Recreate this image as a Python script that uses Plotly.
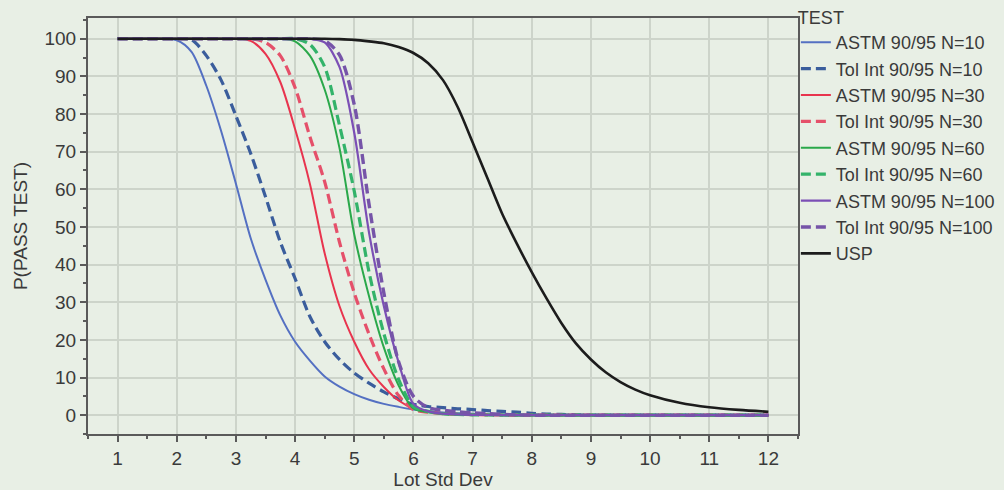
import plotly.graph_objects as go

# Lot standard deviation (x) values
lot_std_dev = [1, 1.5, 2, 2.25, 2.5, 2.75, 3, 3.25, 3.5, 3.75, 4, 4.25, 4.5, 4.75,
               5, 5.25, 5.5, 5.75, 6, 6.25, 6.5, 6.75, 7, 7.25, 7.5, 7.75, 8, 8.25,
               8.5, 8.75, 9, 9.25, 9.5, 9.75, 10, 10.5, 11, 11.5, 12]

astm_n10 = [100, 100, 99.6, 96.5, 87.5, 75.5, 61.5, 47, 36, 26.5, 19.5, 14.5, 10.3, 7.6,
            5.6, 4.1, 3.0, 2.2, 1.5, 1.0, 0.7, 0.5, 0.35, 0.25, 0.2, 0.15, 0.1, 0.1,
            0.05, 0.05, 0, 0, 0, 0, 0, 0, 0, 0, 0]
tol_n10 = [100, 100, 100, 99.7, 95.5, 89, 79.5, 69.5, 58, 46, 36.3, 26.2, 19.5, 14.8,
           11.2, 8.5, 6.2, 4.3, 2.9, 2.3, 2.0, 1.7, 1.5, 1.2, 1.0, 0.8, 0.5, 0.3,
           0.2, 0.1, 0, 0, 0, 0, 0, 0, 0, 0, 0]
astm_n30 = [100, 100, 100, 100, 100, 100, 100, 99.4, 96, 88.5, 76, 61.5, 43, 29,
            19.5, 12.2, 7.5, 3.9, 1.8, 1.0, 0.5, 0.3, 0.2, 0.1, 0.05, 0, 0, 0,
            0, 0, 0, 0, 0, 0, 0, 0, 0, 0, 0]
tol_n30 = [100, 100, 100, 100, 100, 100, 100, 100, 99, 95.5, 87, 74, 62, 46,
           32.5, 21.5, 12.3, 5.2, 1.5, 0.8, 0.4, 0.25, 0.15, 0.1, 0.05, 0, 0, 0,
           0, 0, 0, 0, 0, 0, 0, 0, 0, 0, 0]
astm_n60 = [100, 100, 100, 100, 100, 100, 100, 100, 100, 100, 99.3, 95.5, 86.5, 71,
            48, 31.6, 18, 7.9, 1.8, 0.8, 0.3, 0.15, 0.1, 0.05, 0, 0, 0, 0,
            0, 0, 0, 0, 0, 0, 0, 0, 0, 0, 0]
tol_n60 = [100, 100, 100, 100, 100, 100, 100, 100, 100, 100, 100, 98.5, 92.5, 77,
           59.5, 38, 21.7, 9.5, 2.3, 1.0, 0.4, 0.2, 0.1, 0.05, 0, 0, 0, 0,
           0, 0, 0, 0, 0, 0, 0, 0, 0, 0, 0]
astm_n100 = [100, 100, 100, 100, 100, 100, 100, 100, 100, 100, 100, 100, 99, 92.5,
             75, 48.5, 29, 14, 3, 1.0, 0.4, 0.2, 0.1, 0.05, 0, 0, 0, 0,
             0, 0, 0, 0, 0, 0, 0, 0, 0, 0, 0]
tol_n100 = [100, 100, 100, 100, 100, 100, 100, 100, 100, 100, 100, 100, 99.5, 95.7,
            82.5, 56, 32.5, 14.2, 5, 2.0, 1.3, 0.9, 0.6, 0.4, 0.2, 0.1, 0, 0,
            0, 0, 0, 0, 0, 0, 0, 0, 0, 0, 0]
usp = [100, 100, 100, 100, 100, 100, 100, 100, 100, 100, 100, 100, 100, 99.9,
       99.7, 99.3, 98.8, 97.8, 96.2, 93.5, 89, 81.8, 72.5, 63, 53.5, 45.5, 38, 31,
       24.5, 19, 14.8, 11.4, 8.8, 6.8, 5.3, 3.3, 2.1, 1.4, 0.9]

series_names = ["ASTM 90/95 N=10", "Tol Int 90/95 N=10", "ASTM 90/95 N=30", "Tol Int 90/95 N=30",
                "ASTM 90/95 N=60", "Tol Int 90/95 N=60", "ASTM 90/95 N=100", "Tol Int 90/95 N=100",
                "USP"]
series_values = [astm_n10, tol_n10, astm_n30, tol_n30, astm_n60, tol_n60, astm_n100, tol_n100, usp]

colors = ["#5470c2", "#3a5d9c", "#e8344e", "#e5506a", "#2aa84a", "#33b36a",
          "#7b4fb5", "#7654a8", "#1c1c1c"]
dashes = ["solid", "10px,5px", "solid", "10px,5px", "solid", "10px,5px", "solid", "10px,5px", "solid"]
widths = [2, 3.2, 2, 3.2, 2, 3.2, 2.2, 3.4, 2.6]

BG = "#e8efe5"
GRID = "#cdd4ca"
FONT = "Liberation Sans, Arial, sans-serif"
TXT = "#3a3a3a"

fig = go.Figure()
for name, vals, c, d, w in zip(series_names, series_values, colors, dashes, widths):
    fig.add_trace(go.Scatter(
        x=lot_std_dev, y=vals, name=name, mode="lines",
        line=dict(color=c, dash=d, width=w, shape="spline", smoothing=0.8),
    ))

fig.update_layout(
    width=1004, height=490,
    margin=dict(l=88, r=206, t=18, b=56, autoexpand=False),
    paper_bgcolor=BG, plot_bgcolor=BG,
    font=dict(family=FONT, size=19, color=TXT),
    legend=dict(
        title=dict(text="TEST", font=dict(size=18, color=TXT)),
        x=0.997, xanchor="left", y=1.042, yanchor="top",
        bgcolor="rgba(0,0,0,0)", itemwidth=30, maxheight=480,
        font=dict(size=18, color=TXT), tracegroupgap=0,
    ),
    xaxis=dict(
        range=[0.5, 12.5], dtick=1, tick0=1,
        showgrid=True, gridcolor=GRID, gridwidth=1.5,
        showline=True, linecolor="#5a5a5a", linewidth=2, mirror=True,
        ticks="outside", ticklen=6, tickcolor="#5a5a5a", tickwidth=1.5,
        minor=dict(dtick=0.5, ticks="outside", ticklen=3, tickcolor="#5a5a5a", showgrid=False),
        zeroline=False,
        title=dict(text="Lot Std Dev", standoff=12, font=dict(size=19, color=TXT)),
        tickfont=dict(size=19, color=TXT),
    ),
    yaxis=dict(
        range=[-5, 105.5], dtick=10, tick0=0,
        showgrid=True, gridcolor=GRID, gridwidth=1.5,
        showline=True, linecolor="#5a5a5a", linewidth=2, mirror=True,
        ticks="outside", ticklen=6, tickcolor="#5a5a5a", tickwidth=1.5,
        minor=dict(dtick=5, ticks="outside", ticklen=3, tickcolor="#5a5a5a", showgrid=False),
        zeroline=False,
        title=dict(text="P(PASS TEST)", standoff=12, font=dict(size=19, color=TXT)),
        tickfont=dict(size=19, color=TXT),
    ),
)

fig.write_html("out.html")
